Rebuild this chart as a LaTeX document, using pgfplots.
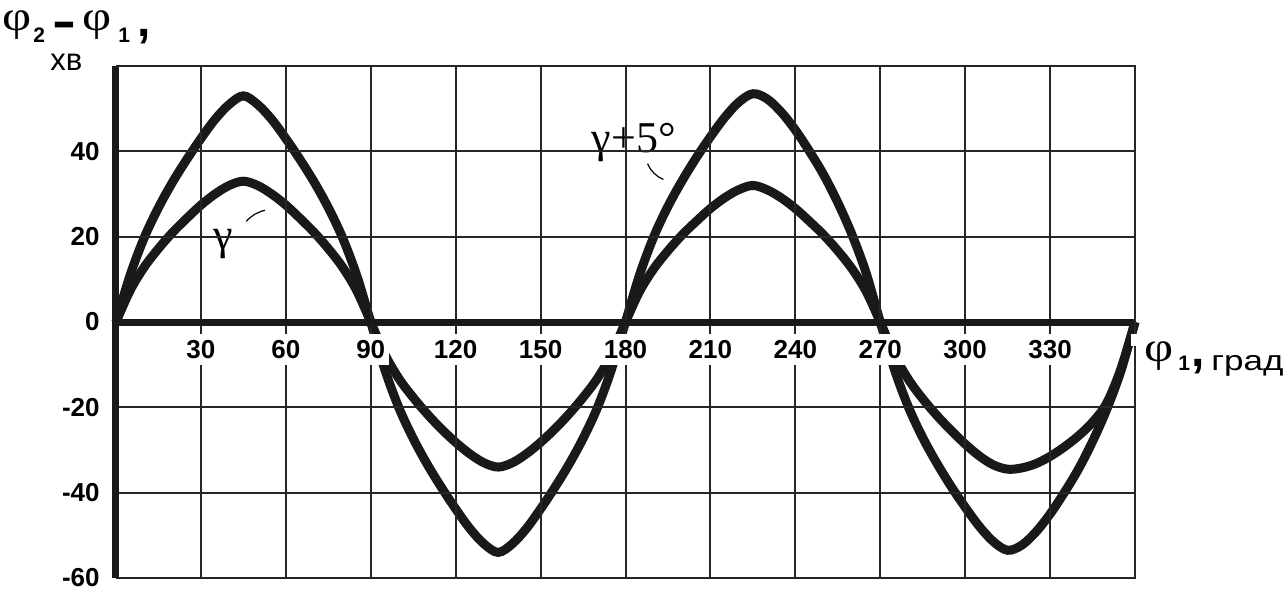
\documentclass[border=0pt]{standalone}
\usepackage{fontspec}
\setmainfont{Liberation Sans}
\newfontfamily\serif{Liberation Serif}
\usepackage{graphicx}
\usepackage{pgfplots}
\pgfplotsset{compat=1.18}
\newcommand{\phig}{{\serif\fontsize{21}{21}\selectfont\scalebox{1.2}[1]{φ}}}
\begin{document}
\begin{tikzpicture}
\begin{axis}[
  scale only axis, width=509.5pt, height=256pt,
  xmin=0, xmax=360, ymin=-60, ymax=60,
  axis x line=middle, axis y line=left,
  axis line style={-, line width=3.5pt, color=black!90},
  xtick={30,60,...,330}, ytick={-60,-40,...,40},
  extra x ticks={360}, extra x tick labels={},
  extra y ticks={60}, extra y tick labels={},
  hide obscured x ticks=false, hide obscured y ticks=false,
  grid=major, grid style={line width=1pt, color=black!85},
  major tick length=0pt,
  /pgf/number format/assume math mode=true,
  tick label style={font=\fontsize{13}{13}\selectfont\bfseries},
  xticklabel style={fill=white, inner xsep=2pt, inner ysep=3pt, yshift=-6pt},
  yticklabel style={inner sep=0pt, xshift=-8pt},
  axis on top,
  clip=false,
]
\coordinate (TL) at (rel axis cs:0,1);
\coordinate (BR) at (rel axis cs:1,0);
\coordinate (R0) at (rel axis cs:1,0.5);
\draw[line width=1pt, color=black!85] (rel axis cs:0,1) -- (rel axis cs:1,1) -- (rel axis cs:1,0) -- (rel axis cs:0,0);
% gamma + 5 deg (large amplitude)
\addplot[smooth, tension=0.55, line width=4.5pt, color=black!90] coordinates {
(0,0) (5,11.0) (10,19.8) (15,26.8) (20,32.8) (25,38.1) (30,43.0) (35,47.5) (40,51.0) (45,53) (50,51.0) (55,47.5) (60,43.0) (65,38.1) (70,32.8) (75,26.8) (80,19.8) (85,11.0) (90,0)
(95,-11.2) (100,-20.2) (105,-27.3) (110,-33.4) (115,-38.8) (120,-43.8) (125,-48.4) (130,-52.0) (135,-54) (140,-52.0) (145,-48.4) (150,-43.8) (155,-38.8) (160,-33.4) (165,-27.3) (170,-20.2) (175,-11.2) (180,0)
(185,11.1) (190,20.0) (195,27.1) (200,33.1) (205,38.5) (210,43.4) (215,47.9) (220,51.5) (225,53.5) (230,52.3) (235,49.2) (240,45) (245,40) (250,34.5) (255,28) (260,20.5) (265,11.5) (270,0)
(275,-11.1) (280,-20.0) (285,-27.1) (290,-33.1) (295,-38.5) (300,-43.4) (305,-47.9) (310,-51.5) (315,-53.5) (320,-52.3) (325,-49.2) (330,-45) (335,-40) (340,-34.5) (345,-28) (350,-20.5) (355,-11.5) (360,0)
};
% gamma (small amplitude)
\addplot[smooth, tension=0.55, line width=4.5pt, color=black!90] coordinates {
(0,0) (5,7.4) (10,12.9) (15,17.2) (20,21.0) (25,24.3) (30,27.4) (35,30.0) (40,32.0) (45,33) (50,32.0) (55,30.0) (60,27.4) (65,24.3) (70,21.0) (75,17.2) (80,12.9) (85,7.4) (90,0)
(95,-7.6) (100,-13.3) (105,-17.7) (110,-21.6) (115,-25.1) (120,-28.2) (125,-30.9) (130,-33.0) (135,-34) (140,-33.0) (145,-30.9) (150,-28.2) (155,-25.1) (160,-21.6) (165,-17.7) (170,-13.3) (175,-7.6) (180,0)
(185,7.2) (190,12.5) (195,16.7) (200,20.4) (205,23.6) (210,26.6) (215,29.1) (220,31.0) (225,32) (230,31.0) (235,29.1) (240,26.6) (245,23.6) (250,20.4) (255,16.7) (260,12.5) (265,7.2) (270,0)
(275,-7.7) (280,-13.5) (285,-18.0) (290,-21.9) (295,-25.4) (300,-28.6) (305,-31.4) (310,-33.5) (315,-34.5) (320,-34.2) (325,-33.2) (330,-31.5) (335,-29.3) (340,-26.7) (345,-23.5) (350,-19) (355,-11) (360,0)
};
% curve labels
\node[anchor=base west, inner sep=0pt, font=\serif\fontsize{22}{22}\selectfont] at (axis cs:34.2,17) {γ};
\draw[line width=0.6pt] (axis cs:46,23.6) to[bend left=15] (axis cs:52.6,26.2);
\node[anchor=base west, inner sep=0pt, font=\serif\fontsize{22}{22}\selectfont] at (axis cs:168,39.7) {γ+5°};
\draw[line width=0.6pt] (axis cs:187.8,37.1) to[bend right=20] (axis cs:193.4,33.4);
\end{axis}
% y axis title: phi_2 - phi_1, min
\node[anchor=base west, inner sep=0pt] at ([shift={(-57pt,17.5pt)}]TL) {\phig};
\node[anchor=base west, inner sep=0pt, font=\fontsize{10.5}{10.5}\selectfont\bfseries] at ([shift={(-41.5pt,11.5pt)}]TL) {2};
\node[anchor=base, inner sep=0pt, font=\fontsize{24}{24}\selectfont\bfseries] at ([shift={(-26pt,14pt)}]TL) {\scalebox{1.5}[1]{-}};
\node[anchor=base west, inner sep=0pt] at ([shift={(-17pt,17.5pt)}]TL) {\phig};
\node[anchor=base west, inner sep=0pt, font=\fontsize{10.5}{10.5}\selectfont\bfseries] at ([shift={(1pt,11.5pt)}]TL) {1};
\node[anchor=base west, inner sep=0pt, font=\fontsize{24}{24}\selectfont\bfseries] at ([shift={(10.5pt,14.5pt)}]TL) {,};
\node[anchor=base west, inner sep=0pt, font=\fontsize{15.5}{15.5}\selectfont] at ([shift={(-33pt,-2.5pt)}]TL) {хв};
% x axis title: phi_1, grad
\node[anchor=base west, inner sep=0pt] at ([shift={(4.5pt,-19.75pt)}]R0) {\phig};
\node[anchor=base west, inner sep=0pt, font=\fontsize{10.5}{10.5}\selectfont\bfseries] at ([shift={(21.5pt,-24pt)}]R0) {1};
\node[anchor=base west, inner sep=0pt, font=\fontsize{24}{24}\selectfont\bfseries] at ([shift={(28pt,-22pt)}]R0) {,};
\node[anchor=base west, inner sep=0pt] at ([shift={(38pt,-24pt)}]R0) {\scalebox{1.25}[1]{\fontsize{14}{14}\selectfont град}};
% picture frame
\path ([shift={(-58pt,33pt)}]TL) ([shift={(74.5pt,-6pt)}]BR);
\end{tikzpicture}
\end{document}
